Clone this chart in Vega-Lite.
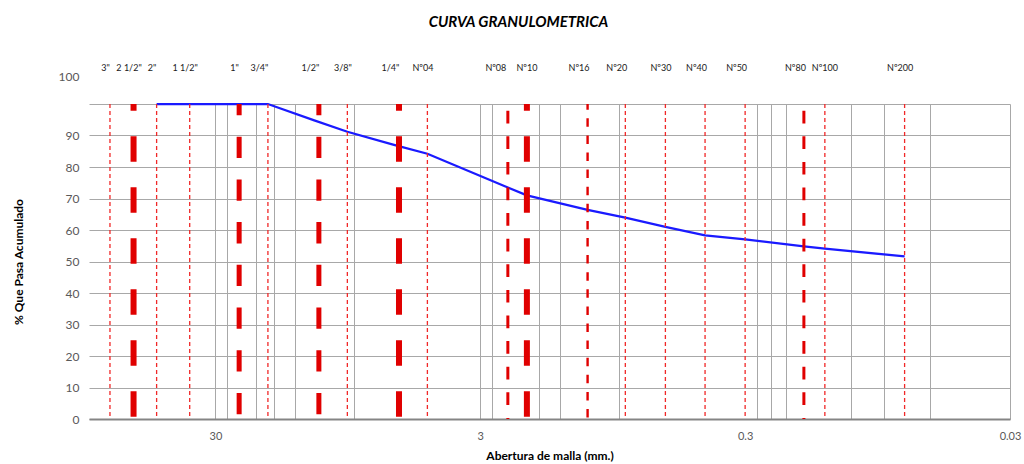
{
  "$schema": "https://vega.github.io/schema/vega-lite/v6.json",
  "width": 921,
  "height": 315,
  "autosize": "none",
  "padding": {"left": 89, "top": 104, "right": 14, "bottom": 45},
  "background": "white",
  "config": {"font": "Lato", "view": {"stroke": null}},
  "title": {
    "text": "CURVA GRANULOMETRICA",
    "font": "Lato",
    "fontSize": 15,
    "fontWeight": "bold",
    "fontStyle": "italic",
    "color": "#000000",
    "anchor": "middle",
    "frame": "group",
    "dx": -31,
    "offset": 34
  },
  "datasets": {
    "tamices": [
      {"tamiz": "3\"", "abertura": 75, "tipo": "fino"},
      {"tamiz": "2 1/2\"", "abertura": 61.1, "tipo": "grueso"},
      {"tamiz": "2\"", "abertura": 50, "tipo": "fino"},
      {"tamiz": "1 1/2\"", "abertura": 37.5, "tipo": "fino"},
      {"tamiz": "1\"", "abertura": 24.4, "tipo": "medio"},
      {"tamiz": "3/4\"", "abertura": 19, "tipo": "fino"},
      {"tamiz": "1/2\"", "abertura": 12.2, "tipo": "medio"},
      {"tamiz": "3/8\"", "abertura": 9.525, "tipo": "fino"},
      {"tamiz": "1/4\"", "abertura": 6.08, "tipo": "grueso"},
      {"tamiz": "Nº04", "abertura": 4.75, "tipo": "fino"},
      {"tamiz": "Nº08", "abertura": 2.36, "tipo": "trazo"},
      {"tamiz": "Nº10", "abertura": 2.0, "tipo": "grueso"},
      {"tamiz": "Nº16", "abertura": 1.18, "tipo": "punteado"},
      {"tamiz": "Nº20", "abertura": 0.85, "tipo": "fino"},
      {"tamiz": "Nº30", "abertura": 0.6, "tipo": "fino"},
      {"tamiz": "Nº40", "abertura": 0.425, "tipo": "fino"},
      {"tamiz": "Nº50", "abertura": 0.3, "tipo": "fino"},
      {"tamiz": "Nº80", "abertura": 0.18, "tipo": "trazo"},
      {"tamiz": "Nº100", "abertura": 0.15, "tipo": "fino"},
      {"tamiz": "Nº200", "abertura": 0.075, "tipo": "fino"}
    ],
    "curva": [
      {"abertura": 50, "pasa": 100},
      {"abertura": 37.5, "pasa": 100},
      {"abertura": 25.4, "pasa": 100},
      {"abertura": 19, "pasa": 100},
      {"abertura": 12.7, "pasa": 94.8},
      {"abertura": 9.525, "pasa": 91.2},
      {"abertura": 6.35, "pasa": 87.0},
      {"abertura": 4.75, "pasa": 84.2},
      {"abertura": 2.36, "pasa": 73.5},
      {"abertura": 2.0, "pasa": 71.0},
      {"abertura": 1.18, "pasa": 66.4},
      {"abertura": 0.85, "pasa": 63.9},
      {"abertura": 0.6, "pasa": 61.0},
      {"abertura": 0.425, "pasa": 58.3},
      {"abertura": 0.3, "pasa": 57.0},
      {"abertura": 0.18, "pasa": 54.8},
      {"abertura": 0.15, "pasa": 54.1},
      {"abertura": 0.075, "pasa": 51.6}
    ]
  },
  "encoding": {
    "x": {
      "field": "abertura",
      "type": "quantitative",
      "title": "Abertura de malla (mm.)",
      "scale": {"type": "log", "domain": [0.03, 90], "reverse": true, "nice": false, "zero": false},
      "axis": {
        "values": [30, 27, 21, 18, 15, 9, 3, 2.7, 1.8, 1.5, 0.9, 0.3, 0.27, 0.24, 0.21, 0.12, 0.09, 0.06, 0.03],
        "format": "~g",
        "labelExpr": "(datum.value == 30 || datum.value == 3 || datum.value == 0.3 || datum.value == 0.03) ? datum.label : ''",
        "labelOverlap": false,
        "labelFlush": false,
        "labelFontSize": 11,
        "labelColor": "#595959",
        "labelPadding": 11,
        "ticks": false,
        "tickSize": 0,
        "domain": true,
        "domainColor": "#858585",
        "domainWidth": 2,
        "grid": true,
        "gridColor": {"condition": {"test": "datum.value == 0.3", "value": "rgba(0,0,0,0)"}, "value": "#a8a8a8"},
        "gridWidth": 1,
        "titleFontSize": 12,
        "titleFontWeight": "bold",
        "titleColor": "#000000",
        "titlePadding": 9
      }
    }
  },
  "layer": [
    {
      "data": {"name": "curva"},
      "mark": {"type": "line", "color": "#1a1aff", "strokeWidth": 2.25},
      "encoding": {
        "y": {
          "field": "pasa",
          "type": "quantitative",
          "title": "% Que Pasa Acumulado",
          "scale": {"domain": [0, 100], "nice": false},
          "axis": {
            "values": [0, 10, 20, 30, 40, 50, 60, 70, 80, 90, 100],
            "tickCount": 11,
            "grid": true,
            "gridColor": "#a8a8a8",
            "domain": false,
            "ticks": false,
            "tickSize": 0,
            "labelOverlap": false,
            "labelFlush": false,
            "labelPadding": 10,
            "labelFontSize": 12,
            "labelColor": "#595959",
            "labelOffset": {"condition": {"test": "datum.value == 100", "value": -28}, "value": 0},
            "titleFontSize": 12,
            "titleFontWeight": "bold",
            "titleColor": "#000000",
            "titlePadding": 33
          }
        }
      }
    },
    {
      "data": {"name": "tamices"},
      "transform": [{"filter": "datum.tipo === 'fino'"}],
      "mark": {"type": "rule", "color": "#f02828", "strokeWidth": 1.3, "strokeDash": [4, 3]}
    },
    {
      "data": {"name": "tamices"},
      "transform": [{"filter": "datum.tipo === 'grueso'"}],
      "mark": {"type": "rule", "color": "#e00000", "strokeWidth": 6, "strokeDash": [25.5, 25.5], "strokeDashOffset": 18.8}
    },
    {
      "data": {"name": "tamices"},
      "transform": [{"filter": "datum.tipo === 'medio'"}],
      "mark": {"type": "rule", "color": "#e00000", "strokeWidth": 5, "strokeDash": [21.3, 21.4], "strokeDashOffset": 10}
    },
    {
      "data": {"name": "tamices"},
      "transform": [{"filter": "datum.tipo === 'trazo'"}],
      "mark": {"type": "rule", "color": "#e00000", "strokeWidth": 3, "strokeDash": [12.7, 12.9], "strokeDashOffset": 18.9}
    },
    {
      "data": {"name": "tamices"},
      "transform": [{"filter": "datum.tipo === 'punteado'"}],
      "mark": {"type": "rule", "color": "#e00000", "strokeWidth": 2.4, "strokeDash": [8.5, 8.6], "strokeDashOffset": 2.8}
    },
    {
      "data": {"name": "tamices"},
      "encoding": {
        "y": {
          "datum": 111.5,
          "type": "quantitative",
          "title": "% Que Pasa Acumulado",
          "scale": {"domain": [0, 100], "nice": false},
          "axis": {
            "values": [0, 10, 20, 30, 40, 50, 60, 70, 80, 90, 100],
            "tickCount": 11,
            "grid": true,
            "gridColor": "#a8a8a8",
            "domain": false,
            "ticks": false,
            "tickSize": 0,
            "labelOverlap": false,
            "labelFlush": false,
            "labelPadding": 10,
            "labelFontSize": 12,
            "labelColor": "#595959",
            "labelOffset": {"condition": {"test": "datum.value == 100", "value": -28}, "value": 0},
            "titleFontSize": 12,
            "titleFontWeight": "bold",
            "titleColor": "#000000",
            "titlePadding": 33
          }
        },
        "text": {"field": "tamiz"}
      },
      "layer": [
        {
          "transform": [{"filter": {"field": "tamiz", "oneOf": ["3\"", "2 1/2\"", "2\"", "1 1/2\"", "1\"", "3/8\"", "Nº30", "Nº04", "Nº200"]}}],
          "mark": {"type": "text", "fontSize": 9, "dx": -4.5, "color": "#1a1a1a", "baseline": "middle", "align": "center"}
        },
        {
          "transform": [{"filter": {"field": "tamiz", "oneOf": ["3/4\"", "1/2\"", "1/4\"", "Nº16", "Nº20", "Nº40", "Nº50", "Nº80"]}}],
          "mark": {"type": "text", "fontSize": 9, "dx": -8.5, "color": "#1a1a1a", "baseline": "middle", "align": "center"}
        },
        {
          "transform": [{"filter": {"field": "tamiz", "oneOf": ["Nº08"]}}],
          "mark": {"type": "text", "fontSize": 9, "dx": -12, "color": "#1a1a1a", "baseline": "middle", "align": "center"}
        },
        {
          "transform": [{"filter": {"field": "tamiz", "oneOf": ["Nº10", "Nº100"]}}],
          "mark": {"type": "text", "fontSize": 9, "dx": 0, "color": "#1a1a1a", "baseline": "middle", "align": "center"}
        }
      ]
    }
  ]
}
